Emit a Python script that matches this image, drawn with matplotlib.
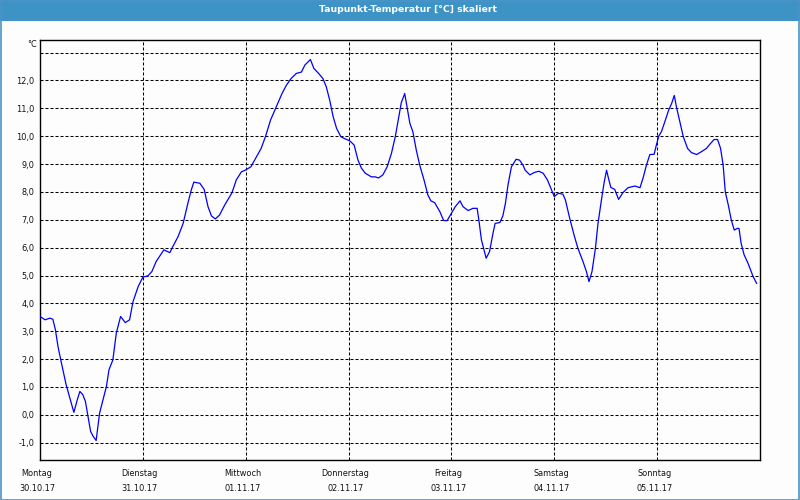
import matplotlib
matplotlib.use("Agg")
import matplotlib.pyplot as plt
from matplotlib.patches import Rectangle
import matplotlib.transforms as mtransforms

title = "Taupunkt-Temperatur [°C] skaliert"
unit_label = "°C"
day_names = ["Montag", "Dienstag", "Mittwoch", "Donnerstag", "Freitag", "Samstag", "Sonntag"]
day_dates = ["30.10.17", "31.10.17", "01.11.17", "02.11.17", "03.11.17", "04.11.17", "05.11.17"]
y_ticks = [-1.0, 0.0, 1.0, 2.0, 3.0, 4.0, 5.0, 6.0, 7.0, 8.0, 9.0, 10.0, 11.0, 12.0]

hours = [0.0, 1.2, 2.3, 3.0, 3.6, 4.2, 5.0, 6.1, 7.3, 7.9, 8.7, 9.3, 10.0, 10.6, 11.2, 11.8,
         12.4, 13.1, 13.9, 14.7, 15.5, 16.1, 17.0, 17.8, 18.8, 19.9, 20.9, 21.7, 22.9, 24.0,
         25.2, 26.1, 27.1, 28.9, 30.3, 31.0, 32.2, 33.4, 34.5, 35.3, 35.9, 37.3, 38.3, 39.2,
         40.0, 40.9, 41.9, 43.1, 44.8, 45.8, 47.0, 47.9, 49.2, 50.5, 51.6, 52.6, 53.8, 55.5,
         56.5, 57.5, 58.6, 59.8, 61.0, 61.8, 63.1, 63.9, 64.9, 66.0, 66.8, 67.6, 68.4, 69.2,
         70.2, 71.1, 72.3, 73.3, 74.2, 75.0, 75.9, 77.3, 78.2, 79.0, 80.0, 81.0, 82.0, 82.9,
         83.6, 84.3, 85.1, 85.7, 86.3, 87.0, 87.8, 88.6, 89.6, 90.5, 91.2, 92.1, 93.3, 94.2,
         95.0, 96.0, 96.9, 98.0, 98.7, 99.9, 101.0, 102.0, 102.4, 103.0, 103.6, 104.1, 104.9,
         105.7, 106.2, 107.3, 108.0, 108.6, 109.2, 110.0, 111.1, 111.9, 112.7, 113.2, 114.3,
         115.4, 116.4, 117.4, 118.4, 119.2, 120.0, 120.9, 122.0, 122.6, 123.6, 124.6, 125.5,
         126.7, 127.5, 128.1, 128.8, 129.6, 130.2, 131.0, 131.6, 132.2, 132.7, 133.2, 134.1,
         135.0, 136.0, 137.2, 138.8, 140.0, 140.7, 141.5, 142.3, 143.3, 143.8, 144.4, 145.0,
         145.8, 146.7, 147.4, 148.0, 148.5, 149.3, 150.1, 151.1, 152.0, 153.2, 154.3, 155.5,
         156.3, 157.3, 158.1, 158.8, 159.4, 159.9, 160.6, 161.3, 162.0, 162.7, 163.1, 163.6,
         164.3, 165.2, 166.4, 167.2]
dewpoint = [3.53, 3.41, 3.47, 3.43, 3.05, 2.45, 1.86, 1.08, 0.42, 0.09, 0.54, 0.84, 0.72, 0.48,
            -0.06, -0.59, -0.77, -0.92, 0.06, 0.54, 1.02, 1.62, 1.97, 2.93, 3.53, 3.31, 3.41,
            4.06, 4.60, 4.94, 4.99, 5.14, 5.50, 5.92, 5.82, 6.04, 6.39, 6.87, 7.59, 8.07, 8.35,
            8.31, 8.09, 7.47, 7.14, 7.03, 7.17, 7.53, 7.97, 8.43, 8.72, 8.78, 8.90, 9.26, 9.56,
            9.98, 10.58, 11.18, 11.54, 11.83, 12.07, 12.25, 12.30, 12.55, 12.75, 12.43, 12.27,
            12.07, 11.77, 11.29, 10.70, 10.28, 9.98, 9.91, 9.83, 9.68, 9.14, 8.85, 8.67, 8.54,
            8.54, 8.50, 8.61, 8.90, 9.38, 9.98, 10.6, 11.2, 11.53, 10.99, 10.46, 10.16, 9.50,
            8.96, 8.43, 7.89, 7.68, 7.61, 7.29, 6.97, 6.97, 7.23, 7.47, 7.68, 7.47, 7.33, 7.41,
            7.41, 6.99, 6.28, 5.92, 5.62, 5.86, 6.52, 6.87, 6.90, 7.14, 7.59, 8.25, 8.90, 9.17,
            9.14, 8.96, 8.78, 8.61, 8.70, 8.74, 8.67, 8.43, 8.13, 7.83, 7.95, 7.92, 7.71, 7.05,
            6.46, 5.98, 5.50, 5.14, 4.78, 5.14, 5.98, 6.87, 7.71, 8.31, 8.78, 8.45, 8.16, 8.09,
            7.73, 7.97, 8.15, 8.21, 8.15, 8.49, 8.96, 9.34, 9.35, 9.67, 10.01, 10.16, 10.52,
            10.94, 11.18, 11.46, 11.05, 10.52, 9.98, 9.56, 9.41, 9.34, 9.44, 9.56, 9.71, 9.88,
            9.88, 9.56, 8.96, 8.00, 7.53, 6.99, 6.63, 6.69, 6.69, 6.15, 5.74, 5.44, 4.96, 4.72]

W, H = 800, 500
fig = plt.figure(figsize=(W / 100, H / 100), dpi=100)
fig.patch.set_facecolor("#fcfdfc")

# title bar and frame
fig.add_artist(Rectangle((0, 1 - 20.5 / H), 1, 20.5 / H, transform=fig.transFigure,
                         facecolor="#3d92c6", edgecolor="none", zorder=0))
fig.add_artist(Rectangle((0.5 / W, 0.5 / H), 1 - 1.5 / W, 1 - 1.0 / H, transform=fig.transFigure,
                         facecolor="none", edgecolor="#4a94c8", linewidth=1.2, zorder=5))
fig.text(408 / W, 1 - 10 / H, title, color="white", ha="center", va="center",
         fontsize=6.7, fontweight="bold", family="DejaVu Sans")

ax = fig.add_axes([40 / W, 1 - 460 / H, 720 / W, 420 / H])
ax.set_facecolor("#fcfdfc")
ax.set_xlim(0, 168)
ax.set_ylim(-1.62, 13.45)

dash = dict(color="black", linewidth=0.75, dashes=(2.9, 1.9))
for yv in y_ticks + [13.0]:
    ax.axhline(yv, zorder=1, **dash)
for d in range(1, 7):
    ax.axvline(d * 24, zorder=1, **dash)

ax.plot(hours, dewpoint, color="#0000ff", linewidth=0.9, zorder=3)

for s in ax.spines.values():
    s.set_color("black")
    s.set_linewidth(1.0)

ax.set_yticks(y_ticks)
ax.set_yticklabels([f"{v:.1f}".replace(".", ",") for v in y_ticks])
ax.tick_params(axis="y", length=0, pad=4, labelsize=5.9, labelcolor="#111111")
ax.set_xticks([])

ax.text(-0.004, 1.0, unit_label, transform=ax.transAxes, ha="right", va="top",
        fontsize=5.9, color="#111111")

off = mtransforms.ScaledTranslation(-3 / 100, 0, fig.dpi_scale_trans)
trans = mtransforms.blended_transform_factory(ax.transData, fig.transFigure) + off
for i, (n, dt) in enumerate(zip(day_names, day_dates)):
    ax.text(i * 24, 1 - 474 / H, n, transform=trans, ha="center", va="center",
            fontsize=5.9, color="#111111", clip_on=False)
    ax.text(i * 24, 1 - 488.5 / H, dt, transform=trans, ha="center", va="center",
            fontsize=5.9, color="#111111", clip_on=False)

fig.savefig("out.png", dpi=100, facecolor=fig.get_facecolor())
